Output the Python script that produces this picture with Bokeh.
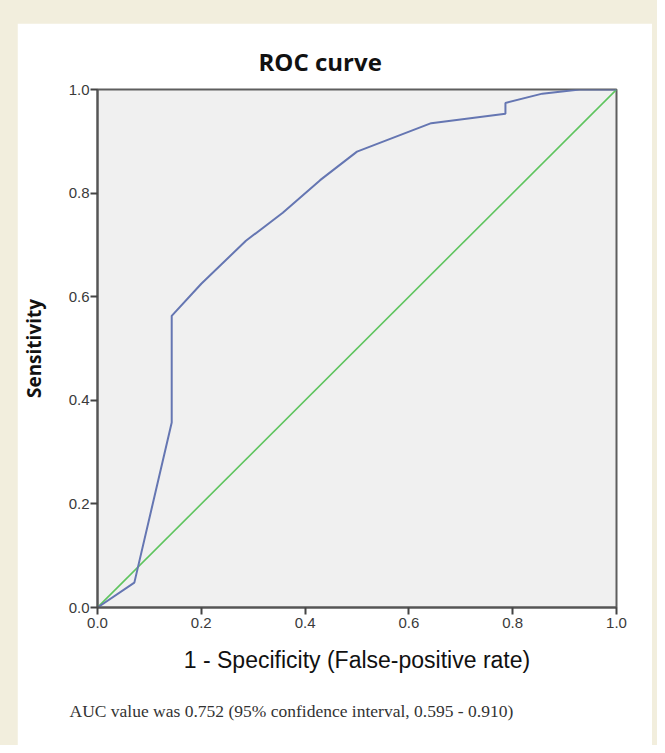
from bokeh.plotting import figure
from bokeh.layouts import column
from bokeh.models import Range1d, FixedTicker, Title, CustomJSTickFormatter
from bokeh.embed import file_html
from bokeh.resources import INLINE

# ROC curve data (1 - specificity, sensitivity)
fpr = [0.0, 0.071, 0.143, 0.143, 0.20, 0.286, 0.357, 0.429, 0.50, 0.643, 0.786, 0.786, 0.857, 0.929, 1.0]
tpr = [0.0, 0.048, 0.357, 0.563, 0.625, 0.708, 0.762, 0.825, 0.880, 0.935, 0.953, 0.974, 0.992, 1.0, 1.0]
ref_x = [0.0, 1.0]
ref_y = [0.0, 1.0]
ticks = [0.0, 0.2, 0.4, 0.6, 0.8, 1.0]
title_text = "ROC curve"
xlabel = "1 - Specificity (False-positive rate)"
ylabel = "Sensitivity"
note = "AUC value was 0.752 (95% confidence interval, 0.595 - 0.910)"

BEIGE = "#F2EEDD"

p = figure(width=635, height=722, output_backend="svg", toolbar_location=None,
           x_range=Range1d(0, 1), y_range=Range1d(0, 1),
           min_border_left=79, min_border_right=36, min_border_top=66, min_border_bottom=138,
           margin=(23, 5, 0, 17))
p.border_fill_color = "white"
p.background_fill_color = "#F0F0F0"
p.grid.visible = False
p.outline_line_color = "#5E5E5E"
p.outline_line_width = 2

p.line(ref_x, ref_y, line_color="#5EC45E", line_width=1.6)
p.line(fpr, tpr, line_color="#6576B2", line_width=2)

fmt = CustomJSTickFormatter(code="return tick.toFixed(1);")
for ax in (p.xaxis[0], p.yaxis[0]):
    ax.ticker = FixedTicker(ticks=ticks)
    ax.formatter = fmt
    ax.minor_tick_line_color = None
    ax.major_tick_in = 0
    ax.major_tick_out = 7
    ax.major_tick_line_color = "#444444"
    ax.major_tick_line_width = 2
    ax.axis_line_color = "#555555"
    ax.axis_line_width = 2
    ax.major_label_text_font = "Liberation Sans"
    ax.major_label_text_font_size = "15px"
    ax.major_label_text_color = "#3A3A3A"
    ax.axis_label_text_font_style = "normal"
    ax.axis_label_text_color = "#111111"
p.xaxis[0].major_label_standoff = 3
p.yaxis[0].major_label_standoff = 1

p.xaxis[0].axis_label = xlabel
p.xaxis[0].axis_label_text_font = "Liberation Sans"
p.xaxis[0].axis_label_text_font_size = "23px"
p.xaxis[0].axis_label_standoff = 16

p.yaxis[0].axis_label = ylabel
p.yaxis[0].axis_label_text_font = "Open Sans"
p.yaxis[0].axis_label_text_font_style = "bold"
p.yaxis[0].axis_label_text_font_size = "19px"
p.yaxis[0].axis_label_standoff = 19

p.title = Title(text=title_text, align="left", offset=161, standoff=23,
                text_font="Open Sans", text_font_style="bold",
                text_font_size="24px", text_color="#111111")

p.add_layout(Title(text=note, align="left", offset=-28, standoff=46,
                   text_font="Liberation Serif", text_font_style="normal",
                   text_font_size="17.5px", text_color="#333333"), "below")

root = column(p, styles={"background-color": BEIGE})
open("out.html", "w").write(file_html(root, INLINE))
